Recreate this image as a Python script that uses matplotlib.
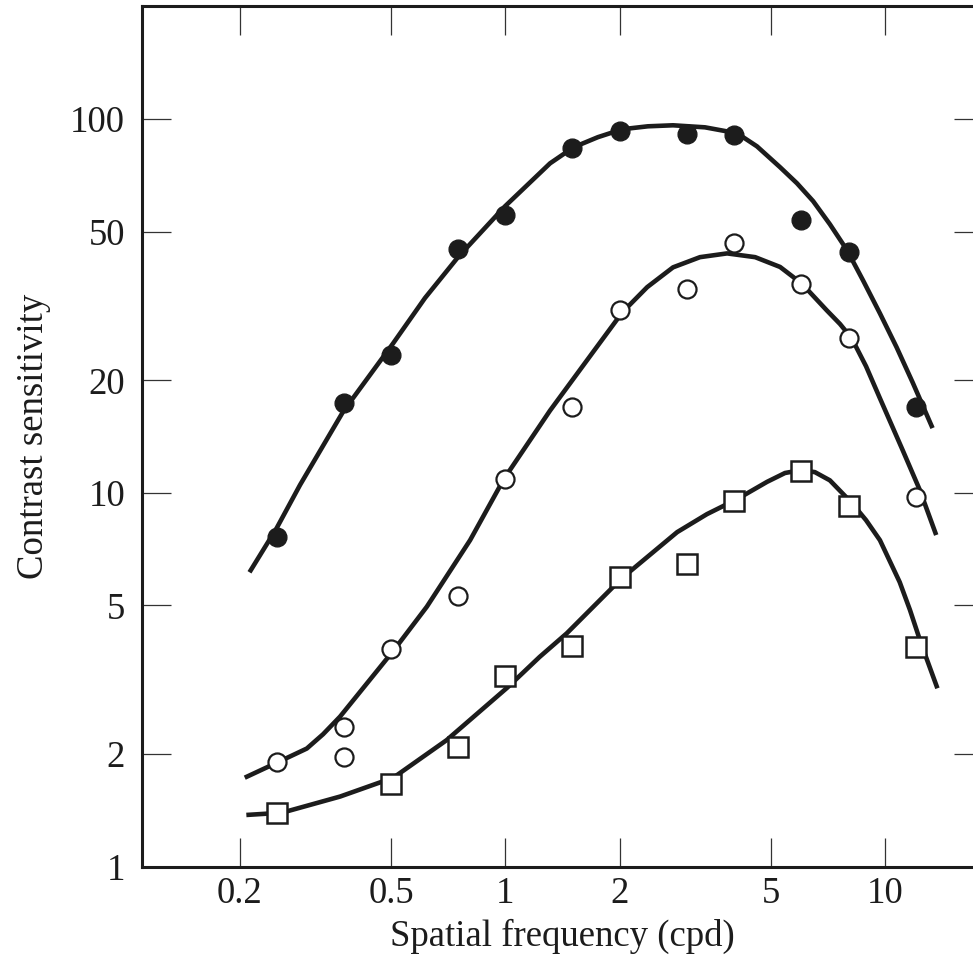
"""Contrast sensitivity vs spatial frequency: three conditions on log-log axes."""

import matplotlib

matplotlib.use("Agg")

import matplotlib.pyplot as plt
from matplotlib.ticker import FixedLocator, FixedFormatter, NullLocator

INK = "#1c1c1c"
FONT = ["Liberation Serif", "DejaVu Serif"]

# measured points
freq_filled = [0.25, 0.375, 0.5, 0.75, 1.0, 1.5, 2.0, 3.0, 4.0, 6.0, 8.0, 12.0]
cs_filled = [7.63, 17.4, 23.4, 45.0, 55.2, 83.5, 92.9, 90.9, 90.6, 53.6, 44.1, 17.0]

freq_open = [0.25, 0.375, 0.375, 0.5, 0.75, 1.0, 1.5, 2.0, 3.0, 4.0, 6.0, 8.0, 12.0]
cs_open = [1.90, 2.36, 1.97, 3.81, 5.30, 10.9, 17.0, 30.8, 35.0, 46.6, 36.3, 25.9, 9.76]

freq_square = [0.25, 0.5, 0.75, 1.0, 1.5, 2.0, 3.0, 4.0, 6.0, 8.0, 12.0]
cs_square = [1.39, 1.66, 2.09, 3.24, 3.90, 5.94, 6.45, 9.52, 11.45, 9.21, 3.88]

# fitted curves
fit_top_x = [0.212, 0.250, 0.288, 0.374, 0.506, 0.614, 0.750, 0.997, 1.31, 1.51,
             1.75, 2.03, 2.37, 2.76, 3.35, 4.07, 4.59, 5.28, 5.85, 6.45, 7.14,
             7.92, 8.73, 9.67, 10.7, 11.8, 13.3]
fit_top_y = [6.13, 8.05, 10.5, 16.5, 25.1, 33.2, 42.7, 58.4, 76.1, 84.0,
             89.4, 93.9, 95.6, 96.2, 95.0, 91.6, 84.5, 74.3, 67.3, 60.3, 52.3,
             44.6, 37.0, 30.2, 24.5, 19.7, 14.9]

fit_mid_x = [0.206, 0.251, 0.300, 0.331, 0.367, 0.510, 0.621, 0.807, 0.991, 1.31,
             1.70, 2.03, 2.36, 2.76, 3.25, 3.83, 4.54, 5.28, 6.02, 7.00, 7.59,
             8.15, 8.89, 9.67, 11.1, 12.3, 13.6]
fit_mid_y = [1.73, 1.90, 2.07, 2.26, 2.52, 3.81, 4.96, 7.47, 10.9, 16.6,
             23.8, 30.4, 35.5, 40.1, 42.7, 43.7, 42.7, 40.2, 36.3, 30.8, 28.3,
             25.9, 21.8, 17.9, 13.0, 10.2, 7.71]

fit_low_x = [0.208, 0.258, 0.367, 0.507, 0.700, 1.01, 1.23, 1.45, 2.02, 2.83,
             3.39, 4.07, 4.88, 5.44, 5.99, 6.52, 7.14, 8.16, 8.89, 9.67, 10.9,
             11.6, 12.4, 13.7]
fit_low_y = [1.375, 1.394, 1.54, 1.73, 2.18, 3.01, 3.64, 4.21, 5.90, 7.85,
             8.77, 9.62, 10.7, 11.3, 11.5, 11.36, 10.8, 9.39, 8.45, 7.47, 5.77,
             4.86, 3.96, 3.00]

x_ticks = [0.2, 0.5, 1, 2, 5, 10]
x_labels = ["0.2", "0.5", "1", "2", "5", "10"]
y_ticks = [1, 2, 5, 10, 20, 50, 100]
y_labels = ["1", "2", "5", "10", "20", "50", "100"]

fig = plt.figure(figsize=(9.73, 9.65), dpi=100)
ax = fig.add_axes([0.1456, 0.1019, 0.8647, 0.8914])
ax.set_xscale("log")
ax.set_yscale("log")

for fx, fy in [(fit_top_x, fit_top_y), (fit_mid_x, fit_mid_y), (fit_low_x, fit_low_y)]:
    ax.plot(fx, fy, color=INK, lw=3.3, solid_capstyle="butt",
            solid_joinstyle="round", zorder=2)

ax.plot(freq_filled, cs_filled, ls="none", marker="o", ms=13.5,
        mfc=INK, mec=INK, zorder=3)
ax.plot(freq_open, cs_open, ls="none", marker="o", ms=13,
        mfc="white", mec=INK, mew=1.6, zorder=3)
ax.plot(freq_square, cs_square, ls="none", marker="s", ms=14,
        mfc="white", mec=INK, mew=1.8, zorder=3)

ax.set_xlim(0.1103, 18.06)
ax.set_ylim(1, 200)

ax.xaxis.set_major_locator(FixedLocator(x_ticks))
ax.xaxis.set_major_formatter(FixedFormatter(x_labels))
ax.xaxis.set_minor_locator(NullLocator())
ax.yaxis.set_major_locator(FixedLocator(y_ticks))
ax.yaxis.set_major_formatter(FixedFormatter(y_labels))
ax.yaxis.set_minor_locator(NullLocator())

ax.tick_params(which="major", direction="in", length=21, width=0.9, color="#333333",
               top=True, right=True, labelsize=26.5, labelcolor=INK)
ax.tick_params(axis="x", pad=7)
ax.tick_params(axis="y", pad=12)
for lab in ax.get_xticklabels() + ax.get_yticklabels():
    lab.set_family(FONT)

for spine in ax.spines.values():
    spine.set_linewidth(2.2)
    spine.set_color(INK)

ax.set_xlabel("Spatial frequency (cpd)", fontsize=26.5, family=FONT, color=INK, labelpad=6)
ax.set_ylabel("Contrast sensitivity", fontsize=26.5, family=FONT, color=INK, labelpad=14)

fig.savefig("out.png", dpi=100)
